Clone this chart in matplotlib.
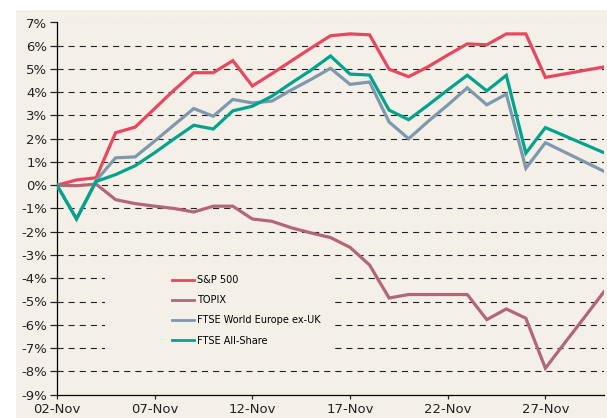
import matplotlib.pyplot as plt
import matplotlib.dates as mdates
from matplotlib.patches import Rectangle
import pandas as pd

# ---------------------------------------------------------------
# DADOS (% de variação desde 02-Nov)

dias = pd.date_range('2009-11-02', '2009-11-30', freq='D')

sp500 = [0.0, 0.23, 0.32, 2.26, 2.5, 3.3, 4.1, 4.84, 4.84, 5.36,
         4.27, 4.8, 5.35, 5.9, 6.43, 6.51, 6.47, 4.99, 4.67, 5.1,
         5.6, 6.08, 6.04, 6.51, 6.51, 4.64, 4.79, 4.94, 5.09]

topix = [0.0, -0.02, 0.05, -0.62, -0.79, -0.9, -1.0, -1.15, -0.9, -0.9,
         -1.45, -1.55, -1.83, -2.05, -2.25, -2.67, -3.43, -4.85, -4.7, -4.7,
         -4.7, -4.7, -5.78, -5.32, -5.72, -7.87, -6.77, -5.68, -4.58]

europa = [0.0, -1.45, 0.2, 1.18, 1.22, 1.9, 2.6, 3.3, 2.97, 3.69,
          3.54, 3.62, 4.1, 4.55, 5.03, 4.34, 4.44, 2.72, 2.0, 2.75,
          3.45, 4.19, 3.46, 3.92, 0.73, 1.83, 1.42, 1.01, 0.6]

allshare = [0.0, -1.45, 0.16, 0.46, 0.84, 1.4, 2.0, 2.58, 2.42, 3.2,
            3.4, 3.83, 4.4, 4.95, 5.56, 4.78, 4.74, 3.23, 2.82, 3.45,
            4.1, 4.73, 4.06, 4.73, 1.38, 2.48, 2.12, 1.76, 1.4]

series = [
    ('S&P 500', sp500, '#E8475F'),
    ('TOPIX', topix, '#B36676'),
    ('FTSE World Europe ex-UK', europa, '#7E98AE'),
    ('FTSE All-Share', allshare, '#00A38B'),
]

y_ticks = list(range(-9, 8))
x_ticks = pd.to_datetime(['2009-11-02', '2009-11-07', '2009-11-12',
                          '2009-11-17', '2009-11-22', '2009-11-27'])

# ---------------------------------------------------------------
# FIGURA

bege = '#F4F0E8'

fig = plt.figure(figsize=(6.07, 4.18), dpi=100, facecolor='white')
# Painel bege atrás do gráfico
painel = Rectangle((16 / 607, 0), 1, 1 - 10 / 418,
                   transform=fig.transFigure,
                   facecolor=bege, edgecolor='none', zorder=-10)
fig.add_artist(painel)

ax = fig.add_axes([57 / 607, 1 - 394.5 / 418, 547 / 607, 372 / 418])
ax.set_zorder(1)
ax.set_facecolor(bege)

# Grade tracejada (a do topo é mais clara)
for v in y_ticks[1:]:
    cor_grade = '#cfcbc4' if v == y_ticks[-1] else '#222222'
    ax.axhline(v, color=cor_grade, lw=0.8, dashes=(5.5, 4.5), zorder=1)

# Fundo da legenda cobre a grade
ax.add_patch(Rectangle((0.088, 0.083), 0.415, 0.28, transform=ax.transAxes,
                       facecolor=bege, edgecolor='none', zorder=2))

for nome, valores, cor in series:
    ax.plot(dias, valores, color=cor, lw=2.3, label=nome, zorder=3,
            solid_joinstyle='miter')

ax.set_ylim(-9, 7)
ax.set_xlim(dias[0], dias[-1])
ax.set_yticks(y_ticks)
ax.set_yticklabels([f'{v}%' for v in y_ticks])
ax.set_xticks(x_ticks)
ax.xaxis.set_major_formatter(mdates.DateFormatter('%d-%b'))

for lado in ['top', 'right']:
    ax.spines[lado].set_visible(False)
for lado in ['left', 'bottom']:
    ax.spines[lado].set_linewidth(0.9)

ax.tick_params(axis='y', direction='out', length=5, width=0.9,
               labelsize=9.5, pad=2, colors='#222222')
ax.tick_params(axis='x', direction='out', length=3, width=0.9,
               labelsize=9.5, pad=3, colors='#222222')

leg = ax.legend(loc='upper left', bbox_to_anchor=(0.195, 0.345),
                frameon=False, fontsize=7, handlelength=2.2,
                handletextpad=0.3, labelspacing=1.05)
for linha in leg.get_lines():
    linha.set_linewidth(2)

fig.savefig('out.png', dpi=100, facecolor=fig.get_facecolor())
